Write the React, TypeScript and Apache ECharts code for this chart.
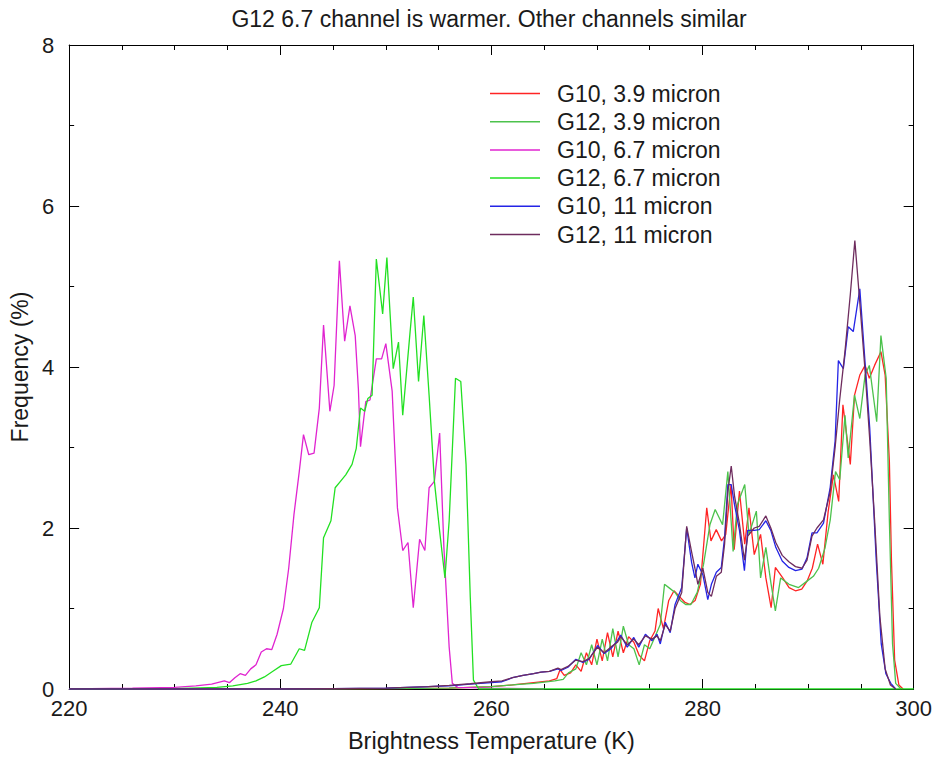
import React, { useEffect, useRef } from "react";
import * as echarts from "echarts";

const titleText = "G12 6.7 channel is warmer. Other channels similar";
const xName = "Brightness Temperature (K)";
const yName = "Frequency (%)";
const seriesNames = [
  "G10, 3.9 micron",
  "G12, 3.9 micron",
  "G10, 6.7 micron",
  "G12, 6.7 micron",
  "G10, 11 micron",
  "G12, 11 micron",
];

// [brightness temperature K, frequency %]
const g10_39: [number, number][] = [
  [220, 0], [240, 0], [250, 0.005], [256, 0.01], [260, 0.03], [262, 0.05], [264, 0.08], [265.5, 0.1],
  [266.2, 0.13], [266.5, 0.24], [266.9, 0.17], [267.5, 0.2], [268, 0.3], [268.5, 0.22], [269, 0.45],
  [269.5, 0.3], [270, 0.62], [270.5, 0.35], [271, 0.7], [271.5, 0.4], [272, 0.72], [272.5, 0.45],
  [273, 0.65], [273.5, 0.58], [274, 0.42], [274.5, 0.35], [275, 0.6], [275.5, 0.72], [275.8, 1.0],
  [276.3, 0.75], [276.8, 1.1], [277.3, 1.22], [277.8, 1.15], [278.3, 1.08], [278.8, 1.05], [279.3, 1.1],
  [279.8, 1.3], [280.4, 2.25], [280.8, 1.84], [281.3, 1.98], [281.8, 1.84], [282.2, 1.92], [282.7, 2.54],
  [283.0, 1.73], [283.5, 2.46], [284.0, 1.8], [284.4, 2.25], [284.9, 1.67], [285.5, 1.92], [286.0, 1.38],
  [286.5, 1.01], [286.9, 1.51], [287.6, 1.38], [288.2, 1.26], [288.8, 1.22], [289.4, 1.24], [289.9, 1.34],
  [290.4, 1.5], [290.9, 1.8], [291.4, 1.55], [291.9, 2.2], [292.4, 2.66], [292.9, 2.33], [293.3, 3.53],
  [294.0, 2.79], [294.4, 3.65], [294.9, 3.9], [295.4, 4.02], [295.8, 3.86], [296.3, 4.02], [296.9, 4.19],
  [297.3, 3.9], [297.7, 2.83], [297.9, 1.59], [298.2, 0.36], [298.6, 0.05], [299, 0],
];

const g12_39: [number, number][] = [
  [220, 0], [240, 0], [250, 0.005], [256, 0.01], [260, 0.03], [262, 0.05], [264, 0.07], [266, 0.1],
  [266.8, 0.12], [267.3, 0.2], [268, 0.25], [268.5, 0.45], [269, 0.3], [269.5, 0.55], [270, 0.3],
  [270.5, 0.62], [271, 0.35], [271.5, 0.75], [272, 0.4], [272.5, 0.78], [273, 0.55], [273.5, 0.5],
  [274, 0.3], [274.5, 0.55], [275, 0.5], [275.5, 0.65], [276, 0.8], [276.4, 1.3], [276.9, 1.25],
  [277.4, 1.2], [277.9, 1.1], [278.4, 1.05], [278.9, 1.05], [279.5, 1.2], [280.1, 1.55], [280.7, 2.04],
  [281.2, 2.23], [281.9, 2.04], [282.4, 2.7], [282.9, 1.71], [283.3, 2.29], [284.0, 2.54], [284.4, 1.92],
  [285.1, 2.21], [285.5, 1.38], [286.0, 1.76], [286.5, 1.3], [286.9, 0.97], [287.4, 1.38], [288.2, 1.3],
  [289.1, 1.26], [289.9, 1.34], [290.5, 1.4], [291.0, 1.5], [291.6, 1.75], [292.1, 2.1], [292.6, 2.7],
  [293.0, 2.6], [293.5, 3.4], [293.8, 2.87], [294.4, 3.65], [294.9, 3.36], [295.4, 3.9], [295.8, 4.02],
  [296.5, 3.32], [296.9, 4.39], [297.4, 3.86], [297.7, 2.09], [298.0, 0.56], [298.3, 0.07], [298.8, 0],
];

const g10_67: [number, number][] = [
  [220, 0], [226, 0.01], [230, 0.02], [232, 0.04], [233.5, 0.06], [234.7, 0.1], [235.2, 0.08],
  [235.7, 0.14], [236.2, 0.19], [236.7, 0.17], [237.2, 0.25], [237.7, 0.3], [238.2, 0.46], [238.7, 0.5],
  [239.2, 0.49], [239.7, 0.68], [240.3, 1.0], [240.8, 1.5], [241.3, 2.17], [241.8, 2.7], [242.2, 3.16],
  [242.7, 2.91], [243.2, 2.93], [243.7, 3.49], [244.1, 4.52], [244.7, 3.45], [245.1, 3.77], [245.6, 5.32],
  [246.1, 4.32], [246.6, 4.76], [247.1, 4.39], [247.4, 3.73], [247.6, 3.01], [248.1, 3.57], [248.5, 3.59],
  [249.1, 4.1], [249.6, 4.1], [250.0, 4.29], [250.6, 3.7], [251.1, 2.25], [251.6, 1.72], [252.1, 1.82],
  [252.6, 1.01], [253.2, 1.86], [253.7, 1.72], [254.1, 2.5], [254.6, 2.58], [255.1, 3.18], [255.5, 1.76],
  [256.0, 0.52], [256.3, 0.07], [256.8, 0.02], [260, 0.01], [265, 0],
];

const g12_67: [number, number][] = [
  [220, 0], [230, 0.005], [234, 0.02], [235.5, 0.04], [236.9, 0.07], [237.7, 0.1], [238.5, 0.15],
  [239.3, 0.22], [240.1, 0.29], [241.0, 0.31], [241.8, 0.5], [242.3, 0.48], [243.0, 0.83], [243.7, 1.01],
  [244.1, 1.88], [244.8, 2.09], [245.2, 2.5], [245.7, 2.58], [246.2, 2.66], [246.8, 2.79], [247.2, 2.99],
  [247.6, 3.49], [248.0, 3.45], [248.3, 3.61], [248.7, 3.65], [249.1, 5.34], [249.7, 4.66], [250.1, 5.36],
  [250.7, 3.98], [251.2, 4.31], [251.6, 3.4], [252.3, 4.44], [252.6, 4.87], [253.1, 3.82], [253.6, 4.64],
  [254.1, 3.65], [254.6, 2.58], [255.1, 1.96], [255.6, 1.38], [256.0, 2.09], [256.6, 3.86], [257.1, 3.82],
  [257.6, 2.79], [258.0, 1.14], [258.3, 0.11], [258.8, 0], [300, 0],
];

const g10_11: [number, number][] = [
  [220, 0], [240, 0], [245, 0.005], [250, 0.01], [252, 0.02], [254, 0.03], [256, 0.04], [258, 0.06],
  [260, 0.08], [261, 0.09], [262, 0.14], [263, 0.17], [264, 0.19], [264.7, 0.21], [265.5, 0.22],
  [266.3, 0.25], [266.6, 0.23], [267.25, 0.27], [268.0, 0.37], [268.66, 0.33], [269.27, 0.37],
  [270.06, 0.54], [270.68, 0.44], [271.31, 0.5], [271.94, 0.6], [272.25, 0.67], [272.87, 0.52],
  [273.49, 0.64], [273.96, 0.52], [274.59, 0.68], [275.22, 0.6], [275.69, 0.68], [276.0, 0.56],
  [276.47, 0.83], [276.94, 0.7], [277.4, 1.05], [278.03, 1.26], [278.5, 2.0], [278.97, 1.57],
  [279.28, 1.38], [279.56, 1.55], [280.03, 1.42], [280.5, 1.11], [280.84, 1.3], [281.31, 1.45],
  [281.78, 1.51], [282.09, 1.88], [282.4, 2.54], [282.72, 2.54], [283.03, 2.29], [283.5, 1.97],
  [283.97, 1.47], [284.28, 1.97], [284.9, 1.97], [285.37, 1.98], [286.0, 2.09], [286.47, 1.97],
  [286.94, 1.76], [287.55, 1.59], [288.18, 1.51], [288.81, 1.47], [289.43, 1.49], [289.9, 1.63],
  [290.37, 1.94], [290.84, 1.94], [291.46, 2.06], [292.09, 2.5], [292.56, 3.08], [292.87, 4.08],
  [293.34, 3.98], [293.81, 4.5], [294.28, 4.44], [294.9, 4.97], [295.84, 3.24], [296.46, 1.59],
  [296.93, 0.56], [297.37, 0.19], [297.84, 0.07], [298.3, 0],
];

const g12_11: [number, number][] = [
  [220, 0], [240, 0], [245, 0.005], [250, 0.01], [252, 0.02], [254, 0.03], [256, 0.045], [258, 0.065],
  [260, 0.09], [261, 0.1], [262, 0.14], [263, 0.17], [264, 0.19], [264.7, 0.21], [265.5, 0.22],
  [266.3, 0.26], [266.6, 0.24], [267.25, 0.28], [268.0, 0.36], [268.66, 0.34], [269.27, 0.38],
  [270.06, 0.52], [270.68, 0.45], [271.31, 0.52], [271.94, 0.58], [272.25, 0.65], [272.87, 0.55],
  [273.49, 0.62], [273.96, 0.55], [274.59, 0.66], [275.22, 0.62], [275.69, 0.66], [276.0, 0.6],
  [276.47, 0.8], [276.94, 0.72], [277.4, 1.0], [278.03, 1.2], [278.5, 2.02], [278.97, 1.7],
  [279.28, 1.5], [279.56, 1.3], [280.03, 1.5], [280.5, 1.2], [280.84, 1.15], [281.31, 1.4],
  [281.78, 1.45], [282.09, 1.8], [282.4, 2.45], [282.72, 2.77], [283.03, 2.4], [283.5, 2.05],
  [283.97, 1.6], [284.28, 1.9], [284.9, 2.0], [285.37, 2.02], [286.0, 2.15], [286.47, 2.0],
  [286.94, 1.82], [287.55, 1.66], [288.18, 1.58], [288.81, 1.52], [289.43, 1.5], [289.9, 1.6],
  [290.37, 1.9], [290.84, 2.0], [291.46, 2.1], [292.09, 2.45], [292.56, 3.0], [293.0, 3.6],
  [293.5, 4.2], [294.0, 4.9], [294.43, 5.57], [294.9, 4.8], [295.4, 3.95], [295.84, 3.1],
  [296.3, 2.1], [296.8, 0.9], [297.3, 0.25], [297.8, 0.05], [298.3, 0],
];

const seriesData = [g10_39, g12_39, g10_67, g12_67, g10_11, g12_11];
const seriesColors = ["#ff2424", "#4cc24c", "#e024d0", "#22e022", "#2424e6", "#6e2c5e"];

const FONT = "Liberation Sans, Arial, Helvetica, sans-serif";
const TEXT = "#1a1a1a";

export default function App() {
  const ref = useRef<HTMLDivElement>(null);
  useEffect(() => {
    if (!ref.current) return;
    const chart = echarts.init(ref.current, undefined, { renderer: "svg" });
    const axisLine = { show: true, onZero: false, lineStyle: { color: "#000", width: 1 } };
    const tickStyle = { color: "#000", width: 1 };
    chart.setOption({
      animation: false,
      backgroundColor: "#fff",
      textStyle: { fontFamily: FONT },
      title: {
        text: titleText,
        left: 489,
        top: 7,
        padding: 0,
        textAlign: "center",
        textStyle: { fontFamily: FONT, fontSize: 23, fontWeight: "normal", color: TEXT },
      },
      legend: {
        orient: "vertical",
        left: 490,
        top: 82,
        padding: 0,
        icon: "rect",
        itemWidth: 50,
        itemHeight: 1.5,
        itemGap: 5.2,
        data: seriesNames,
        textStyle: { fontFamily: FONT, fontSize: 23, color: TEXT, padding: [0, 0, 0, 12], lineHeight: 23 },
      },
      grid: { left: 63, right: 20, top: 45, bottom: 66, containLabel: false },
      xAxis: [
        {
          type: "value",
          min: 220,
          max: 300,
          interval: 20,
          position: "bottom",
          name: xName,
          nameLocation: "middle",
          nameGap: 40,
          nameTextStyle: { fontFamily: FONT, fontSize: 23.5, color: TEXT },
          axisLine,
          axisTick: { show: true, inside: true, length: 10, lineStyle: tickStyle },
          minorTick: { show: true, splitNumber: 4, length: 5, lineStyle: tickStyle },
          splitLine: { show: false },
          axisLabel: { fontFamily: FONT, fontSize: 22, color: TEXT, margin: 8 },
        },
        {
          type: "value",
          min: 220,
          max: 300,
          interval: 20,
          position: "top",
          axisLine,
          axisTick: { show: true, inside: true, length: 10, lineStyle: tickStyle },
          minorTick: { show: true, splitNumber: 4, length: 5, lineStyle: tickStyle },
          splitLine: { show: false },
          axisLabel: { show: false },
        },
      ],
      yAxis: [
        {
          type: "value",
          min: 0,
          max: 8,
          interval: 2,
          position: "left",
          name: yName,
          nameLocation: "middle",
          nameGap: 31,
          nameTextStyle: { fontFamily: FONT, fontSize: 23, color: TEXT },
          axisLine,
          axisTick: { show: true, inside: true, length: 10, lineStyle: tickStyle },
          minorTick: { show: true, splitNumber: 2, length: 5, lineStyle: tickStyle },
          splitLine: { show: false },
          axisLabel: { fontFamily: FONT, fontSize: 22, color: TEXT, margin: 15 },
        },
        {
          type: "value",
          min: 0,
          max: 8,
          interval: 2,
          position: "right",
          axisLine,
          axisTick: { show: true, inside: true, length: 10, lineStyle: tickStyle },
          minorTick: { show: true, splitNumber: 2, length: 5, lineStyle: tickStyle },
          splitLine: { show: false },
          axisLabel: { show: false },
        },
      ],
      series: seriesNames.map((name, i) => ({
        name,
        type: "line",
        xAxisIndex: 0,
        yAxisIndex: 0,
        data: seriesData[i],
        symbol: "none",
        showSymbol: false,
        color: seriesColors[i],
        itemStyle: { color: seriesColors[i] },
        lineStyle: { color: seriesColors[i], width: 1.3 },
        emphasis: { disabled: true },
      })),
    });
    return () => chart.dispose();
  }, []);
  return (
    <div
      ref={ref}
      style={{ position: "fixed", left: 0, top: 0, width: 935, height: 758, background: "#fff" }}
    />
  );
}
